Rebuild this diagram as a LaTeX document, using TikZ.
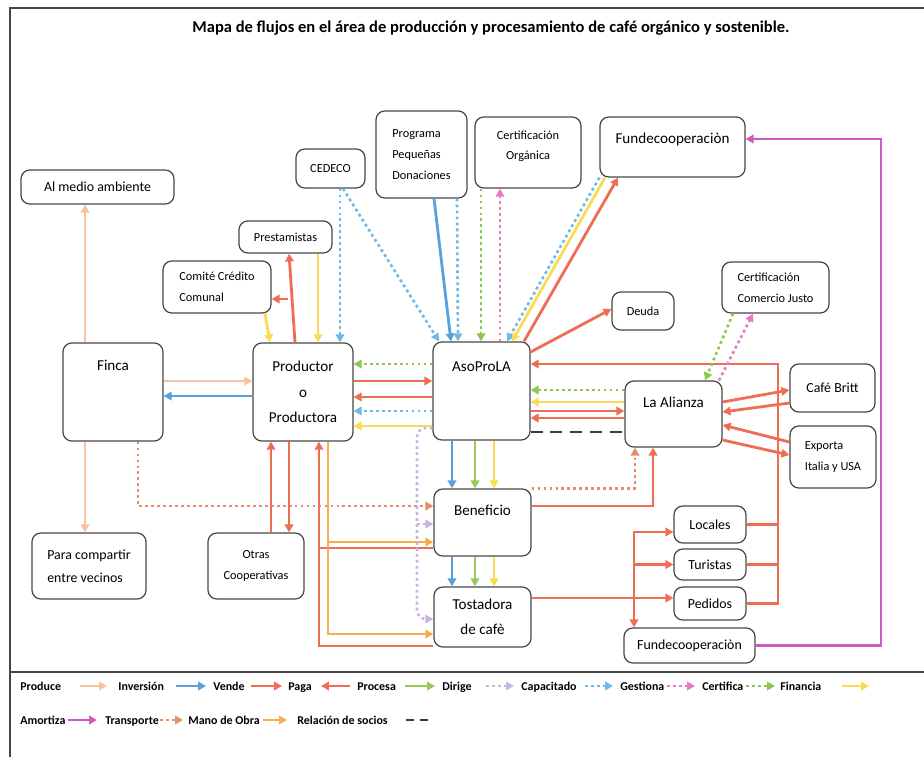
\documentclass[tikz,border=0pt]{standalone}
\usepackage{fontspec}
\setmainfont{Carlito}
\usepackage{tikz}
\usetikzlibrary{arrows.meta}
\definecolor{borde}{RGB}{70,70,70}
\definecolor{durazno}{RGB}{247,195,160}
\definecolor{azul}{RGB}{90,160,220}
\definecolor{rojo}{RGB}{238,110,85}
\definecolor{verde}{RGB}{156,200,90}
\definecolor{lila}{RGB}{200,180,225}
\definecolor{celeste}{RGB}{110,185,230}
\definecolor{rosa}{RGB}{235,120,195}
\definecolor{verdep}{RGB}{140,200,80}
\definecolor{amarillo}{RGB}{249,220,85}
\definecolor{fucsia}{RGB}{210,90,190}
\definecolor{transp}{RGB}{229,140,110}
\definecolor{naranja}{RGB}{245,175,80}
\definecolor{socio}{RGB}{60,60,60}

\begin{document}
\begin{tikzpicture}[scale=0.2, >={Triangle[length=4.5pt,width=4.8pt]}]
        \tikzstyle{every node}+=[inner sep=0pt]
        \tikzstyle{caja}=[draw=borde, line width=0.7pt, rounded corners=5pt]
        \tikzstyle{grande}=[font=\fontsize{8.6}{14.5}\selectfont]
        \tikzstyle{media}=[font=\fontsize{7.9}{13}\selectfont]
        \tikzstyle{chica}=[font=\fontsize{7}{11.8}\selectfont]
        \tikzstyle{leyenda}=[anchor=west, text height=1.6ex, text depth=0.5ex, font=\bfseries\fontsize{6.8}{8}\selectfont]
        \tikzstyle{linea}=[line width=1.6pt, ->]
        \tikzstyle{puntos}=[line width=1.5pt, dash pattern=on 1.6pt off 1.8pt, ->]
        \tikzstyle{produce}=[draw=durazno, line width=1.1pt, ->]
        \tikzstyle{inversion}=[linea, draw=azul]
        \tikzstyle{vende}=[linea, draw=rojo]
        \tikzstyle{paga}=[linea, draw=rojo]
        \tikzstyle{procesa}=[linea, draw=verde]
        \tikzstyle{dirige}=[puntos, draw=lila]
        \tikzstyle{capacitado}=[puntos, draw=celeste]
        \tikzstyle{gestiona}=[puntos, draw=rosa]
        \tikzstyle{certifica}=[puntos, draw=verdep]
        \tikzstyle{financia}=[linea, draw=amarillo]
        \tikzstyle{amortiza}=[linea, draw=fucsia]
        \tikzstyle{transporte}=[puntos, draw=transp]
        \tikzstyle{manoobra}=[linea, draw=naranja]
        \tikzstyle{socios}=[draw=socio, line width=1.6pt, dash pattern=on 6.8pt off 4.5pt]
        \useasboundingbox (0,0) rectangle (92.4,-75.7);
        \draw [borde, line width=0.6pt] (1.0,-75.7) -- (1.0,-0.8) -- (92.4,-0.8);
        \draw [borde, line width=0.6pt] (1.0,-67.2) -- (92.4,-67.2);
        \node [font=\bfseries\fontsize{9.4}{11}\selectfont] (titulo) at (49.1,-2.8) {Mapa de flujos en el área de producción y procesamiento de café orgánico y sostenible.};
        \node [caja, media, minimum width=3.06cm, minimum height=0.68cm] (medio) at (9.75,-18.7) {Al medio ambiente};
        \node [caja, chica, minimum width=1.38cm, minimum height=0.78cm] (cedeco) at (33.05,-16.85) {CEDECO};
        \node [caja, chica, align=left, minimum width=1.82cm, minimum height=1.74cm] (pequenas) at (42.15,-15.45) {Programa\\Pequeñas\\Donaciones};
        \node [caja, chica, align=center, text depth=0.29cm, minimum width=2.12cm, minimum height=1.42cm] (certorg) at (52.8,-15.25) {Certificación\\Orgánica};
        \node [caja, grande, text height=0.52cm, text depth=0.68cm, minimum width=2.9cm, minimum height=1.2cm] (fundetop) at (67.25,-14.7) {Fundecooperaciòn};
        \node [caja, chica, minimum width=1.24cm, minimum height=0.76cm] (deuda) at (64.3,-31.1) {Deuda};
        \node [caja, chica, align=left, minimum width=2.14cm, minimum height=1.02cm] (certcj) at (77.55,-28.75) {Certificación\\Comercio Justo};
        \node [caja, media, minimum width=1.7cm, minimum height=0.96cm] (britt) at (83.25,-38.8) {Café Britt};
        \node [caja, chica, align=left, minimum width=1.72cm, minimum height=1.24cm] (exporta) at (83.3,-45.7) {Exporta\\Italia y USA};
        \node [caja, grande, text height=0.52cm, text depth=0.80cm, minimum width=1.94cm, minimum height=1.32cm] (alianza) at (67.35,-41.4) {La Alianza};
        \node [caja, grande, text height=0.58cm, text depth=1.38cm, minimum width=1.94cm, minimum height=1.96cm] (aso) at (48.15,-39.1) {AsoProLA};
        \node [caja, grande, align=center, minimum width=2cm, minimum height=1.96cm] (prod) at (30.3,-39.2) {Productor\\o\\Productora};
        \node [caja, grande, text height=0.54cm, text depth=1.42cm, minimum width=2cm, minimum height=1.96cm] (finca) at (11.3,-39.2) {Finca};
        \node [caja, chica, minimum width=1.86cm, minimum height=0.64cm] (prest) at (28.55,-23.7) {Prestamistas};
        \node [caja, chica, align=left, minimum width=2.16cm, minimum height=1.04cm] (comite) at (21.7,-28.7) {Comité Crédito\\Comunal};
        \node [caja, media, align=left, minimum width=2.28cm, minimum height=1.32cm] (compartir) at (8.9,-56.6) {Para compartir\\entre vecinos};
        \node [caja, chica, align=center, minimum width=1.92cm, minimum height=1.32cm] (otras) at (25.6,-56.6) {Otras\\Cooperativas};
        \node [caja, grande, text height=0.52cm, text depth=0.82cm, minimum width=1.94cm, minimum height=1.34cm] (ben) at (48.25,-52.25) {Beneficio};
        \node [caja, grande, align=center, minimum width=1.94cm, minimum height=1.2cm] (tos) at (48.25,-61.7) {Tostadora\\de cafè};
        \node [caja, media, minimum width=1.44cm, minimum height=0.74cm] (locales) at (71,-52.45) {Locales};
        \node [caja, media, minimum width=1.44cm, minimum height=0.62cm] (turistas) at (71,-56.45) {Turistas};
        \node [caja, media, minimum width=1.44cm, minimum height=0.66cm] (pedidos) at (71,-60.35) {Pedidos};
        \node [caja, media, minimum width=2.62cm, minimum height=0.70cm] (fundebot) at (68.95,-64.55) {Fundecooperaciòn};
        \coordinate (desvio) at (28.8,-29.9);
        \coordinate (tronco) at (77.8,-36.4);
        \coordinate (reparto) at (63.4,-53.2);
        \coordinate (retorno) at (88.1,-13.9);
        \draw [produce] (finca.north -| 8.5,0) -- (medio.south -| 8.5,0);
        \draw [produce] (finca.south -| 8.5,0) -- (compartir.north -| 8.5,0);
        \draw [produce] (finca.east |- 0,-38.1) -- (prod.west |- 0,-38.1);
        \draw [inversion] (prod.west |- 0,-39.6) -- (finca.east |- 0,-39.6);
        \draw [transporte] (finca.south -| 13.8,0) |- (ben.west |- 0,-50.6);
        \draw [financia] (comite.south -| 26.5,0) -- (prod.north -| 27.0,0);
        \draw [paga] (prod.north -| 29.5,0) -- (prest.south -| 28.9,0);
        \draw [paga] (desvio) -- (comite.east |- desvio);
        \draw [financia] (prest.south -| 31.8,0) -- (prod.north -| 31.8,0);
        \draw [capacitado] (cedeco.south -| 34.0,0) -- (prod.north -| 34.0,0);
        \draw [paga] (otras.north -| 27.1,0) -- (prod.south -| 27.1,0);
        \draw [vende] (prod.south -| 28.9,0) -- (otras.north -| 28.9,0);
        \draw [paga,-] (ben.west |- 0,-54.8) -- (31.9,-54.8);
        \draw [paga] (tos.west |- 0,-64.6) -| (prod.south -| 31.9,0);
        \draw [manoobra] (prod.south -| 32.8,0) |- (ben.west |- 0,-54.2);
        \draw [manoobra] (prod.south -| 32.8,0) |- (tos.west |- 0,-63.4);
        \draw [certifica] (aso.west |- 0,-36.4) -- (prod.east |- 0,-36.4);
        \draw [vende] (prod.east |- 0,-38.1) -- (aso.west |- 0,-38.1);
        \draw [paga] (aso.west |- 0,-39.7) -- (prod.east |- 0,-39.7);
        \draw [capacitado] (aso.west |- 0,-41.1) -- (prod.east |- 0,-41.1);
        \draw [financia] (aso.west |- 0,-42.6) -- (prod.east |- 0,-42.6);
        \draw [capacitado] (cedeco.south -| 34.3,0) -- (aso.north -| 43.9,0);
        \draw [inversion] (pequenas.south -| 43.4,0) -- (aso.north -| 45.1,0);
        \draw [capacitado] (pequenas.south -| 45.7,0) -- (aso.north -| 45.8,0);
        \draw [certifica] (certorg.south -| 48.1,0) -- (aso.north -| 48.1,0);
        \draw [gestiona] (aso.north -| 50.0,0) -- (certorg.south -| 50.0,0);
        \draw [capacitado] (fundetop.south west) -- (aso.north -| 50.7,0);
        \draw [financia] (fundetop.south -| 60.5,0) -- (aso.north -| 51.2,0);
        \draw [paga] (aso.north -| 52.4,0) -- (fundetop.south -| 61.8,0);
        \draw [paga] (aso.east |- 0,-35.2) -- (deuda.west |- 0,-30.9);
        \draw [paga] (pedidos.east) -| (tronco) -- (aso.east |- tronco);
        \draw [paga,-] (locales.east) -- (tronco |- locales.east);
        \draw [paga,-] (turistas.east) -- (tronco |- turistas.east);
        \draw [certifica] (alianza.west |- 0,-39.0) -- (aso.east |- 0,-39.0);
        \draw [financia] (alianza.west |- 0,-40.2) -- (aso.east |- 0,-40.2);
        \draw [vende] (aso.east |- 0,-41.1) -- (alianza.west |- 0,-41.1);
        \draw [paga] (alianza.west |- 0,-41.8) -- (aso.east |- 0,-41.8);
        \draw [socios] (aso.east |- 0,-43.2) -- (alianza.west |- 0,-43.2);
        \draw [certifica] (certcj.south -| 73.3,0) -- (alianza.north -| 70.5,0);
        \draw [gestiona] (alianza.north -| 71.9,0) -- (certcj.south -| 75.3,0);
        \draw [vende] (alianza.east |- 0,-40.2) -- (britt.west |- 0,-39.0);
        \draw [paga] (britt.west |- 0,-40.3) -- (alianza.east |- 0,-41.2);
        \draw [paga] (exporta.west |- 0,-44.2) -- (alianza.east |- 0,-42.5);
        \draw [vende] (alianza.east |- 0,-44.0) -- (exporta.west |- 0,-45.5);
        \draw [inversion] (aso.south -| 45.2,0) -- (ben.north -| 45.2,0);
        \draw [procesa] (aso.south -| 47.5,0) -- (ben.north -| 47.5,0);
        \draw [financia] (aso.south -| 49.4,0) -- (ben.north -| 49.4,0);
        \draw [inversion] (ben.south -| 45.2,0) -- (tos.north -| 45.2,0);
        \draw [procesa] (ben.south -| 47.5,0) -- (tos.north -| 47.5,0);
        \draw [financia] (ben.south -| 49.4,0) -- (tos.north -| 49.4,0);
        \draw [dirige, rounded corners=5pt] (aso.west |- 0,-42.8) -| (41.7,-61.9) -- (tos.west |- 0,-61.9);
        \draw [dirige] (41.7,-52.4) -- (ben.west |- 0,-52.4);
        \draw [transporte] (ben.north east) -| (alianza.south -| 63.5,0);
        \draw [vende] (ben.east |- 0,-50.6) -| (alianza.south -| 65.3,0);
        \draw [vende] (tos.east |- 0,-59.8) -- (pedidos.west |- 0,-59.8);
        \draw [vende,<->] (locales.west |- reparto) -| (fundebot.north -| reparto);
        \draw [vende] (reparto |- turistas.west) -- (turistas.west);
        \draw [amortiza] (fundebot.east) -| (retorno) -- (fundetop.east |- retorno);
        \node [leyenda] (lproduce) at (2.0,-68.6) {Produce};
        \draw [produce] (lproduce.east -| 8.0,0) -- (lproduce.east -| 10.7,0);
        \node [leyenda] (linversion) at (11.8,-68.6) {Inversión};
        \draw [inversion] (linversion.east -| 17.6,0) -- (linversion.east -| 20.6,0);
        \node [leyenda] (lvende) at (21.3,-68.6) {Vende};
        \draw [vende] (lvende.east -| 25.1,0) -- (lvende.east -| 28.2,0);
        \node [leyenda] (lpaga) at (28.8,-68.6) {Paga};
        \draw [paga] (lpaga.east -| 35.0,0) -- (lpaga.east -| 32.1,0);
        \node [leyenda] (lprocesa) at (35.7,-68.6) {Procesa};
        \draw [procesa] (lprocesa.east -| 40.5,0) -- (lprocesa.east -| 43.5,0);
        \node [leyenda] (ldirige) at (44.2,-68.6) {Dirige};
        \draw [dirige] (ldirige.east -| 48.6,0) -- (ldirige.east -| 51.4,0);
        \node [leyenda] (lcapacitado) at (52.1,-68.6) {Capacitado};
        \draw [capacitado] (lcapacitado.east -| 58.5,0) -- (lcapacitado.east -| 61.3,0);
        \node [leyenda] (lgestiona) at (62.0,-68.6) {Gestiona};
        \draw [gestiona] (lgestiona.east -| 66.7,0) -- (lgestiona.east -| 69.5,0);
        \node [leyenda] (lcertifica) at (70.2,-68.6) {Certifica};
        \draw [certifica] (lcertifica.east -| 74.6,0) -- (lcertifica.east -| 77.5,0);
        \node [leyenda] (lfinancia) at (78.0,-68.6) {Financia};
        \draw [financia] (lfinancia.east -| 84.2,0) -- (lfinancia.east -| 86.9,0);
        \node [leyenda] (lamortiza) at (2.0,-72.0) {Amortiza};
        \draw [amortiza] (lamortiza.east -| 6.8,0) -- (lamortiza.east -| 9.7,0);
        \node [leyenda] (ltransporte) at (10.5,-72.0) {Transporte};
        \draw [transporte] (ltransporte.east -| 16.0,0) -- (ltransporte.east -| 18.3,0);
        \node [leyenda] (lmanoobra) at (18.8,-72.0) {Mano de Obra};
        \draw [manoobra] (lmanoobra.east -| 26.3,0) -- (lmanoobra.east -| 28.7,0);
        \node [leyenda] (lsocios) at (29.7,-72.0) {Relación de socios};
        \draw [socios, dash pattern=on 4.5pt off 3.4pt] (lsocios.east -| 40.6,0) -- (lsocios.east -| 43.0,0);
        \end{tikzpicture}
\end{document}
